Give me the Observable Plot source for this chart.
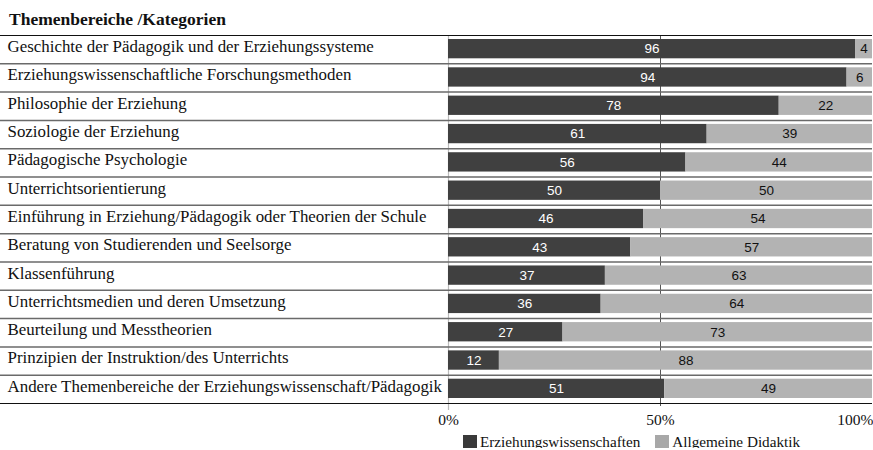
<!DOCTYPE html>
<html><head><meta charset="utf-8">
<script src="https://cdn.jsdelivr.net/npm/d3@7"></script>
<script src="https://cdn.jsdelivr.net/npm/@observablehq/plot@0.6"></script>
<style>
body{margin:0;background:#fff;font-family:"Liberation Serif",serif;overflow:hidden;}
#title{height:30px;padding:11px 0 0 9px;box-sizing:border-box;font-weight:bold;font-size:17.5px;line-height:16px;color:#111}
#chart svg{display:block;}
#legend{margin:5px 0 0 463px;display:flex;align-items:center;font-family:"Liberation Serif",serif;font-size:15.2px;line-height:13px;color:#111;}
#legend .item{display:inline-flex;align-items:center;margin-right:15px;}
#legend .sw{display:inline-block;width:14px;height:13px;margin-right:3px;}
</style></head><body>
<div id="title"></div>
<div id="chart"></div>
<div id="legend"></div>
<script>
const title = "Themenbereiche /Kategorien";
const categories = [
  "Geschichte der Pädagogik und der Erziehungssysteme",
  "Erziehungswissenschaftliche Forschungsmethoden",
  "Philosophie der Erziehung",
  "Soziologie der Erziehung",
  "Pädagogische Psychologie",
  "Unterrichtsorientierung",
  "Einführung in Erziehung/Pädagogik oder Theorien der Schule",
  "Beratung von Studierenden und Seelsorge",
  "Klassenführung",
  "Unterrichtsmedien und deren Umsetzung",
  "Beurteilung und Messtheorien",
  "Prinzipien der Instruktion/des Unterrichts",
  "Andere Themenbereiche der Erziehungswissenschaft/Pädagogik"
];
const erziehung = [96, 94, 78, 61, 56, 50, 46, 43, 37, 36, 27, 12, 51];
const didaktik  = [4, 6, 22, 39, 44, 50, 54, 57, 63, 64, 73, 88, 49];
const seriesNames = ["Erziehungswissenschaften", "Allgemeine Didaktik"];
const seriesColors = ["#404040", "#b3b3b3"];
const legendSwatchColors = ["#3a3a3a", "#a8a8a8"];
const xTicks = [0, 50, 100];
const tickLabels = ["0%", "50%", "100%"];

document.getElementById("title").textContent = title;

const rows = categories.flatMap((c, i) => [
  {i, cat: c, s: seriesNames[0], x1: 0, x2: erziehung[i], v: erziehung[i], k: 0},
  {i, cat: c, s: seriesNames[1], x1: erziehung[i], x2: erziehung[i] + didaktik[i], v: didaktik[i], k: 1}
]);
const n = categories.length;
const tickData = xTicks.map((t, j) => ({t, label: tickLabels[j]}));

const chart = Plot.plot({
  width: 873, height: 400,
  marginLeft: 448, marginRight: 1, marginTop: 5, marginBottom: 27,
  x: {domain: [0, 100], axis: null},
  y: {domain: [0, n], reverse: true, axis: null},
  color: {domain: seriesNames, range: seriesColors},
  style: {fontFamily: "Liberation Serif", background: "#fff", overflow: "visible"},
  marks: [
    Plot.ruleX([0], {stroke: "#bbb", strokeWidth: 1.2, insetBottom: -7}),
    Plot.ruleX([50], {stroke: "#555", strokeWidth: 1, insetBottom: -3}),
    Plot.rect(rows, {x1: "x1", x2: "x2", y1: d => d.i, y2: d => d.i + 1, fill: "s", insetTop: 4, insetBottom: 5}),
    Plot.ruleY(d3.range(1, n), {stroke: "#6a6a6a", strokeWidth: 1.5, insetLeft: -448}),
    Plot.ruleY([0, n], {stroke: "#111", strokeWidth: 1.2, insetLeft: -448}),
    Plot.text(rows.filter(d => d.k === 0), {x: d => (d.x1 + d.x2) / 2, y: d => d.i + 0.5, text: d => String(d.v), fill: "#fff", fontFamily: "Liberation Sans", fontSize: 13.5, dy: -0.5}),
    Plot.text(rows.filter(d => d.k === 1), {x: d => (d.x1 + d.x2) / 2, y: d => d.i + 0.5, text: d => String(d.v), fill: "#111", fontFamily: "Liberation Sans", fontSize: 13.5, dy: -0.5}),
    Plot.text(categories, {y: (d, i) => i + 0.5, text: d => d, frameAnchor: "left", textAnchor: "start", dx: -441, dy: -3, fontSize: 16.9, fill: "#111"}),
    Plot.text(tickData.filter(d => d.t < 100), {x: "t", text: "label", frameAnchor: "bottom", dy: 21, fontSize: 15.5, fill: "#111"}),
    Plot.text(tickData.filter(d => d.t === 100), {x: "t", text: "label", frameAnchor: "bottom", textAnchor: "end", dx: 1, dy: 21, fontSize: 15.5, fill: "#111"})
  ]
});
document.getElementById("chart").appendChild(chart);

const items = d3.select("#legend").selectAll("span.item")
  .data(seriesNames).join("span").attr("class", "item");
items.append("span").attr("class", "sw").style("background", (d, i) => legendSwatchColors[i]);
items.append("span").text(d => d);
</script>
</body></html>
